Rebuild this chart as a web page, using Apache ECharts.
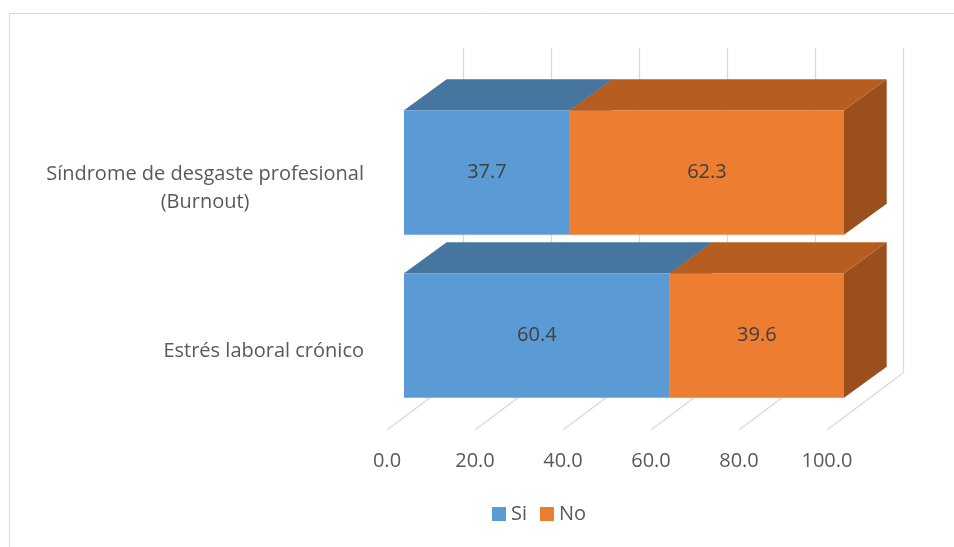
<!DOCTYPE html>
<html>
<head>
<meta charset="utf-8">
<script src="https://cdn.jsdelivr.net/npm/echarts@6/dist/echarts.min.js"></script>
<style>
  html, body { margin: 0; padding: 0; background: #ffffff; }
  #chart { width: 954px; height: 547px; }
</style>
</head>
<body>
<div id="chart"></div>
<script>
// Categories listed bottom to top (category axis grows upward)
const categories = ['Estrés laboral crónico', 'Síndrome de desgaste profesional\n(Burnout)'];
const seriesNames = ['Si', 'No'];
const siValues = [60.4, 37.7];
const noValues = [39.6, 62.3];
const tickValues = [0, 20, 40, 60, 80, 100];

const FONT_FAMILY = '"Open Sans", sans-serif';
const FONT_SIZE = 20;
const TEXT_COLOR = '#595959';

// Oblique depth of the boxes and of the floor, in pixels
const BAR_DEPTH = [42.7, -31];
const FLOOR_DEPTH = [-76, 57];

// front / top / side shades per series
const SHADES = {
  Si: ['#5b9bd5', '#46769f', '#3b6386'],
  No: ['#ed7d31', '#b65e22', '#9a4f1d']
};

// width of a line of text, used to centre the lines of a category label on each other
const measureCtx = document.createElement('canvas').getContext('2d');
function textWidth(s) {
  measureCtx.font = FONT_SIZE + 'px ' + FONT_FAMILY;
  return measureCtx.measureText(s).width;
}

function stackedRows(values, base) {
  return values.map((v, i) => [i, v, base ? base[i] : 0]);
}

function boxItem(shades) {
  return function (params, api) {
    const cat = api.value(0);
    const val = api.value(1);
    const start = api.value(2);
    const a = api.coord([start, cat]);
    const b = api.coord([start + val, cat]);
    const band = api.size([0, 1])[1];
    const h = band * 0.765;
    const top = a[1] - h / 2;
    const bottom = a[1] + h / 2;
    const x0 = a[0], x1 = b[0];
    const dx = BAR_DEPTH[0], dy = BAR_DEPTH[1];
    return {
      type: 'group',
      children: [
        {
          type: 'polygon',
          shape: { points: [[x1, top], [x1 + dx, top + dy], [x1 + dx, bottom + dy], [x1, bottom]] },
          style: { fill: shades[2] }
        },
        {
          type: 'polygon',
          shape: { points: [[x0, top], [x1, top], [x1 + dx, top + dy], [x0 + dx, top + dy]] },
          style: { fill: shades[1] }
        },
        {
          type: 'rect',
          shape: { x: x0, y: top, width: x1 - x0, height: h },
          style: { fill: shades[0] }
        },
        {
          type: 'text',
          style: {
            text: val.toFixed(1),
            x: (x0 + x1) / 2,
            y: a[1],
            align: 'center',
            verticalAlign: 'middle',
            fontSize: FONT_SIZE,
            fontFamily: FONT_FAMILY,
            fill: '#404040'
          }
        }
      ]
    };
  };
}

const chart = echarts.init(document.getElementById('chart'), null, { renderer: 'canvas' });

chart.setOption({
  backgroundColor: '#ffffff',
  animation: false,
  graphic: [{
    type: 'rect',
    shape: { x: 9.5, y: 13.5, width: 1000, height: 600 },
    style: { fill: 'none', stroke: '#d9d9d9', lineWidth: 1 },
    silent: true
  }],
  legend: {
    data: seriesNames,
    left: 487,
    top: 499,
    icon: 'rect',
    itemWidth: 14,
    itemHeight: 14,
    itemGap: 13,
    textStyle: { fontSize: FONT_SIZE, fontFamily: FONT_FAMILY, color: TEXT_COLOR }
  },
  grid: [
    // front face of the boxes
    { left: 404, width: 440, top: 91, height: 326 },
    // back wall
    { left: 463, width: 440, top: 48, height: 325 },
    // front edge of the floor, carries the value labels
    { left: 387, width: 440, top: 429, height: 1 }
  ],
  xAxis: [
    { gridIndex: 0, type: 'value', min: 0, max: 100, interval: 20, show: false },
    {
      gridIndex: 1, type: 'value', min: 0, max: 100, interval: 20,
      axisLine: { show: false }, axisTick: { show: false }, axisLabel: { show: false },
      splitLine: { show: true, lineStyle: { color: '#d9d9d9', width: 1.3 } }
    },
    {
      gridIndex: 2, type: 'value', min: 0, max: 100, interval: 20,
      axisLine: { show: false }, axisTick: { show: false }, splitLine: { show: false },
      axisLabel: {
        margin: 21,
        fontSize: FONT_SIZE, fontFamily: FONT_FAMILY, color: TEXT_COLOR,
        formatter: v => v.toFixed(1)
      }
    }
  ],
  yAxis: [
    {
      gridIndex: 0, type: 'category', data: categories,
      axisLine: { show: false }, axisTick: { show: false }, splitLine: { show: false },
      axisLabel: { show: false }
    },
    { gridIndex: 1, type: 'value', min: 0, max: 1, show: false },
    { gridIndex: 2, type: 'value', min: 0, max: 1, show: false }
  ],
  series: [
    {
      // floor lines running from the back wall to the front edge
      type: 'custom',
      name: 'floor',
      xAxisIndex: 1,
      yAxisIndex: 1,
      silent: true,
      data: tickValues.map(v => [v, 0]),
      encode: { x: 0, y: 1 },
      renderItem: function (params, api) {
        const cs = params.coordSys;
        const x = api.coord([api.value(0), 0])[0];
        const yb = cs.y + cs.height;
        return {
          type: 'line',
          shape: { x1: x, y1: yb, x2: x + FLOOR_DEPTH[0], y2: yb + FLOOR_DEPTH[1] },
          style: { stroke: '#d9d9d9', lineWidth: 1.3 }
        };
      },
      z: 1
    },
    {
      // category names, right edge of the widest line set against the boxes
      type: 'custom',
      name: 'categoryLabels',
      xAxisIndex: 0,
      yAxisIndex: 0,
      silent: true,
      data: categories.map((c, i) => [0, i]),
      encode: { x: 0, y: 1 },
      renderItem: function (params, api) {
        const i = api.value(1);
        const p = api.coord([0, i]);
        const text = categories[i];
        const lines = text.split('\n');
        const w = Math.max.apply(null, lines.map(textWidth));
        return {
          type: 'text',
          style: {
            text: text,
            x: p[0] - 40 - w / 2,
            y: p[1] + 16,
            align: 'center',
            verticalAlign: 'middle',
            lineHeight: 28,
            fontSize: FONT_SIZE,
            fontFamily: FONT_FAMILY,
            fill: TEXT_COLOR
          }
        };
      },
      z: 1
    },
    {
      type: 'custom',
      name: 'Si',
      xAxisIndex: 0,
      yAxisIndex: 0,
      itemStyle: { color: SHADES.Si[0] },
      data: stackedRows(siValues),
      encode: { x: 1, y: 0 },
      renderItem: boxItem(SHADES.Si),
      z: 2
    },
    {
      type: 'custom',
      name: 'No',
      xAxisIndex: 0,
      yAxisIndex: 0,
      itemStyle: { color: SHADES.No[0] },
      data: stackedRows(noValues, siValues),
      encode: { x: 1, y: 0 },
      renderItem: boxItem(SHADES.No),
      z: 3
    }
  ]
});
</script>
</body>
</html>
